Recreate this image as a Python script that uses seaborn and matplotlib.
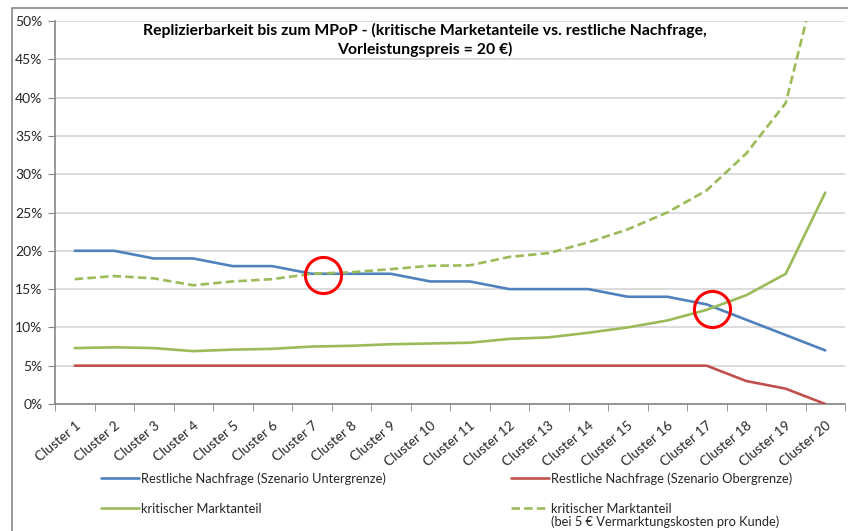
import matplotlib.pyplot as plt
from matplotlib.lines import Line2D
from matplotlib.patches import Rectangle
from matplotlib.ticker import FixedLocator, FuncFormatter
import pandas as pd
import seaborn as sns

# data (values in percent)
clusters = ['Cluster %d' % i for i in range(1, 21)]
nachfrage_unter = [20, 20, 19, 19, 18, 18, 17, 17, 17, 16, 16, 15, 15, 15, 14, 14, 13, 11, 9, 7]
nachfrage_ober = [5, 5, 5, 5, 5, 5, 5, 5, 5, 5, 5, 5, 5, 5, 5, 5, 5, 3, 2, 0]
krit_anteil = [7.3, 7.4, 7.3, 6.9, 7.1, 7.2, 7.5, 7.6, 7.8, 7.9, 8.0, 8.5, 8.7, 9.3, 10.0, 10.9, 12.3, 14.2, 17.0, 27.6]
krit_anteil_vk = [16.3, 16.7, 16.4, 15.5, 16.0, 16.3, 17.0, 17.2, 17.6, 18.05, 18.1, 19.2, 19.7, 21.1, 22.8, 25.0, 27.9, 32.7, 39.3, 60.0]
yticks = [0, 5, 10, 15, 20, 25, 30, 35, 40, 45, 50]

# red circles marking the intersections (cluster index, percent)
circle_x = [6.28, 16.13]
circle_y = [16.8, 12.4]

labels = ['Restliche Nachfrage (Szenario Untergrenze)',
          'Restliche Nachfrage (Szenario Obergrenze)',
          'kritischer Marktanteil',
          'kritischer Marktanteil']
label_note = '(bei 5 \u20ac Vermarktungskosten pro Kunde)'
title = ('Replizierbarkeit bis zum MPoP - (kritische Marketanteile vs. restliche Nachfrage,\n'
         'Vorleistungspreis = 20 \u20ac)')

blue, red, green = '#4F81BD', '#C0504D', '#9BBB59'

sns.set_style('white')
plt.rcParams['font.family'] = ['Lato', 'DejaVu Sans']

df = pd.DataFrame({'cluster': clusters, 'unter': nachfrage_unter, 'ober': nachfrage_ober,
                   'krit': krit_anteil, 'krit_vk': krit_anteil_vk})

fig = plt.figure(figsize=(8.48, 5.31), dpi=100)
ax = fig.add_axes([55/848, 1-404/531, (845-55)/848, (404-21)/531])

lw = 1.9
dash = (0, (3.2, 1.6))
sns.lineplot(data=df, x='cluster', y='unter', ax=ax, color=blue, lw=lw, zorder=4)
sns.lineplot(data=df, x='cluster', y='ober', ax=ax, color=red, lw=lw, zorder=4)
sns.lineplot(data=df, x='cluster', y='krit', ax=ax, color=green, lw=lw, zorder=4)
sns.lineplot(data=df, x='cluster', y='krit_vk', ax=ax, color=green, lw=lw, zorder=4,
             dashes=False, linestyle=dash)
ax.plot(circle_x, circle_y, ls='none', marker='o', ms=26, mfc='none', mec='#FF0000', mew=2.2, zorder=5)

ax.set_xlim(-0.5, 19.5)
ax.set_ylim(0, 50)
ax.set_yticks(yticks)
ax.yaxis.set_major_formatter(FuncFormatter(lambda v, p: '%d%%' % v))
ax.grid(axis='y', color='#D9D9D9', lw=1.3)
ax.set_axisbelow(True)
ax.set_xlabel('')
ax.set_ylabel('')

# category ticks between clusters, labels centred on clusters
ax.set_xticks(range(20))
ax.set_xticklabels(clusters, rotation=40, ha='right', rotation_mode='anchor',
                   fontsize=9.8, color='#262626')
ax.xaxis.set_minor_locator(FixedLocator([i - 0.5 for i in range(21)]))
ax.tick_params(axis='x', which='major', length=0, pad=11)
ax.tick_params(axis='x', which='minor', length=5, color='#868686', bottom=True)
ax.tick_params(axis='y', length=5, color='#868686', labelsize=10, labelcolor='#262626', left=True, pad=4)

for s in ['top', 'right']:
    ax.spines[s].set_visible(False)
for s in ['left', 'bottom']:
    ax.spines[s].set_color('#868686')
    ax.spines[s].set_linewidth(1.2)

fig.text(425/848, 1-40/531, title, ha='center', va='center', fontsize=11.3,
         fontweight='bold', linespacing=1.4, color='black')

handles = [Line2D([], [], color=blue, lw=lw),
           Line2D([], [], color=green, lw=lw),
           Line2D([], [], color=red, lw=lw),
           Line2D([], [], color=green, lw=lw, linestyle=dash)]
leg_labels = [labels[0], labels[2], labels[1], labels[3]]
leg = fig.legend(handles, leg_labels, loc='upper left', bbox_to_anchor=(101/848, 1-472/531),
                 ncol=2, frameon=False, fontsize=9.3, handlelength=2.95, handletextpad=0.15,
                 columnspacing=9.7, labelspacing=1.4, borderaxespad=0, borderpad=0)

# second line of the dashed entry, placed under its label
fig.canvas.draw()
bb = leg.get_texts()[3].get_window_extent().transformed(fig.transFigure.inverted())
fig.text(bb.x0, bb.y0 - 1/531, label_note, ha='left', va='top', fontsize=9.3)

# chart area border
fig.patches.append(Rectangle((12/848, -0.1), 1.0, 1.1 - 8/531, transform=fig.transFigure,
                             fill=False, edgecolor='#868686', lw=1.2))

fig.savefig('out.png', dpi=100)
